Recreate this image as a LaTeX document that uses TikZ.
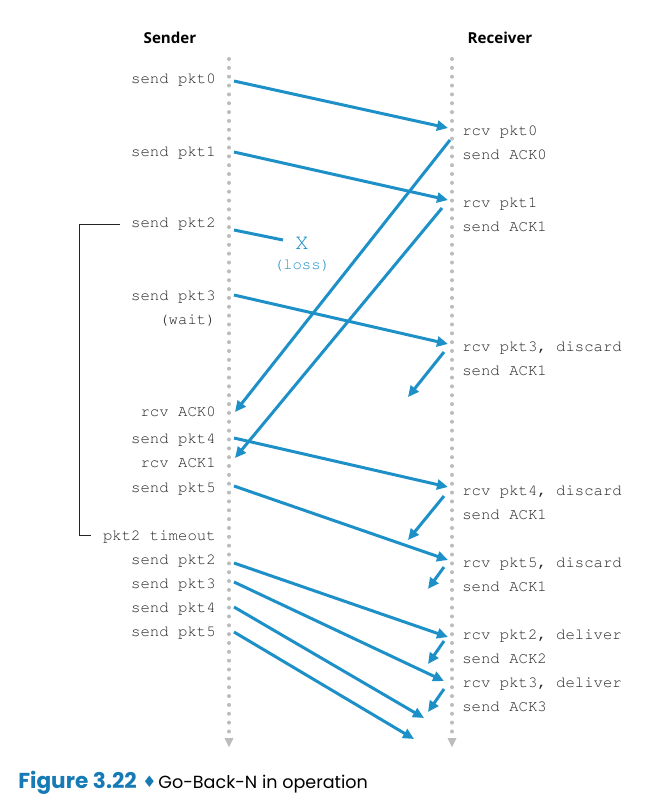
\documentclass[tikz,border=0pt]{standalone}
\usepackage[T1]{fontenc}
\usepackage{fontspec}
\setsansfont{Open Sans}
\newfontfamily\capfont{Poppins}
\newfontfamily\symfont{DejaVu Sans}
\newcommand\pktfont{\fontencoding{T1}\fontfamily{pcr}\selectfont}
\usetikzlibrary{arrows.meta}
\definecolor{pktblue}{RGB}{30,144,200}
\definecolor{capblue}{RGB}{22,122,182}
\definecolor{dotgray}{RGB}{188,188,188}
\definecolor{lblgray}{RGB}{35,35,35}
\tikzset{
  timeline/.style={dotgray, line width=0.08cm, line cap=round, dash pattern=on 0pt off 0.177cm},
  msg/.style={pktblue, line width=0.06cm, -{Triangle[length=0.22cm,width=0.2cm]}},
  lbl/.style={font=\pktfont\fontsize{8.9}{10}\selectfont, text=lblgray, inner sep=0pt},
  head/.style={font=\sffamily\bfseries\fontsize{8.6}{10}\selectfont, inner sep=0pt},
}
\begin{document}
\begin{tikzpicture}[x=0.02cm,y=-0.02cm]
                \useasboundingbox (0,0) rectangle (667,806);
                
                % Drawing headings
                \node [head] (sender) at (170,38) {Sender};
                \node [head] (receiver) at (500,38) {Receiver};
                
                % Drawing time lines
                \draw [timeline] (229,59) -- (229,733);
                \fill [dotgray] (224.5,738) -- (233.5,738) -- (229,747) -- cycle;
                \draw [timeline] (452,59) -- (452,733);
                \fill [dotgray] (447.5,738) -- (456.5,738) -- (452,747) -- cycle;
                
                % Marking sender events
                \node [lbl, anchor=base east] (s0) at (216,83) {send pkt0};
                \node [lbl, anchor=base east] (s1) at (216,156) {send pkt1};
                \node [lbl, anchor=base east] (s2) at (216,227) {send pkt2};
                \node [lbl, anchor=base east] (s3) at (216,300) {send pkt3};
                \node [lbl, anchor=base east] (wait) at (216,324) {(wait)};
                \node [lbl, anchor=base east] (a0) at (216,416) {rcv ACK0};
                \node [lbl, anchor=base east] (s4) at (216,443) {send pkt4};
                \node [lbl, anchor=base east] (a1) at (216,467) {rcv ACK1};
                \node [lbl, anchor=base east] (s5) at (216,492) {send pkt5};
                \node [lbl, anchor=base east] (tout) at (216,540) {pkt2 timeout};
                \node [lbl, anchor=base east] (t2) at (216,564) {send pkt2};
                \node [lbl, anchor=base east] (t3) at (216,588) {send pkt3};
                \node [lbl, anchor=base east] (t4) at (216,612) {send pkt4};
                \node [lbl, anchor=base east] (t5) at (216,636) {send pkt5};
                
                % Marking receiver events
                \node [lbl, anchor=base west] (r0) at (462,135) {rcv pkt0};
                \node [lbl, anchor=base west] (k0) at (462,159) {send ACK0};
                \node [lbl, anchor=base west] (r1) at (462,207) {rcv pkt1};
                \node [lbl, anchor=base west] (k1) at (462,231) {send ACK1};
                \node [lbl, anchor=base west] (r3) at (462,351) {rcv pkt3, discard};
                \node [lbl, anchor=base west] (k3) at (462,375) {send ACK1};
                \node [lbl, anchor=base west] (r4) at (462,495) {rcv pkt4, discard};
                \node [lbl, anchor=base west] (k4) at (462,519) {send ACK1};
                \node [lbl, anchor=base west] (r5) at (462,567) {rcv pkt5, discard};
                \node [lbl, anchor=base west] (k5) at (462,591) {send ACK1};
                \node [lbl, anchor=base west] (q2) at (462,639) {rcv pkt2, deliver};
                \node [lbl, anchor=base west] (c2) at (462,663) {send ACK2};
                \node [lbl, anchor=base west] (q3) at (462,687) {rcv pkt3, deliver};
                \node [lbl, anchor=base west] (c3) at (462,711) {send ACK3};
                
                % Message end points
                \coordinate (p0a) at (234,81);   \coordinate (p0b) at (448,128);
                \coordinate (p1a) at (234,152);  \coordinate (p1b) at (448,200);
                \coordinate (p2a) at (234,230);  \coordinate (p2b) at (283,240);
                \coordinate (p3a) at (234,295);  \coordinate (p3b) at (448,344);
                \coordinate (ack0a) at (450,140); \coordinate (ack0b) at (235,412);
                \coordinate (ack1a) at (442,208); \coordinate (ack1b) at (235,458);
                \coordinate (ack3a) at (444,352); \coordinate (ack3b) at (408,397);
                \coordinate (p4a) at (234,438);  \coordinate (p4b) at (448,487);
                \coordinate (ack4a) at (444,496); \coordinate (ack4b) at (408,540);
                \coordinate (p5a) at (234,486);  \coordinate (p5b) at (448,560);
                \coordinate (ack5a) at (444,567); \coordinate (ack5b) at (428,589);
                \coordinate (q2a) at (234,563);  \coordinate (q2b) at (448,637);
                \coordinate (c2a) at (444,641);  \coordinate (c2b) at (428,664);
                \coordinate (q3a) at (234,582);  \coordinate (q3b) at (444,681);
                \coordinate (c3a) at (444,689);  \coordinate (c3b) at (428,712);
                \coordinate (q4a) at (234,607);  \coordinate (q4b) at (424,718);
                \coordinate (q5a) at (234,632);  \coordinate (q5b) at (414,739);
                
                % Drawing messages
                \draw [msg] (p0a) -- (p0b);
                \draw [msg] (p1a) -- (p1b);
                \draw [pktblue, line width=0.06cm] (p2a) -- (p2b);
                \draw [msg] (p3a) -- (p3b);
                \draw [msg] (ack0a) -- (ack0b);
                \draw [msg] (ack1a) -- (ack1b);
                \draw [msg] (ack3a) -- (ack3b);
                \draw [msg] (p4a) -- (p4b);
                \draw [msg] (ack4a) -- (ack4b);
                \draw [msg] (p5a) -- (p5b);
                \draw [msg] (ack5a) -- (ack5b);
                \draw [msg] (q2a) -- (q2b);
                \draw [msg] (c2a) -- (c2b);
                \draw [msg] (q3a) -- (q3b);
                \draw [msg] (c3a) -- (c3b);
                \draw [msg] (q4a) -- (q4b);
                \draw [msg] (q5a) -- (q5b);
                
                % Marking the loss
                \node [lbl, text=pktblue, font=\pktfont\fontsize{12.5}{13}\selectfont] (lossx) at (302,243) {X};
                \node [lbl, text=pktblue] (loss) at (302,265) {(loss)};
                
                % Drawing timeout bracket
                \coordinate (brtop) at (120,224);
                \coordinate (brbot) at (91,535);
                \draw [line width=0.02cm, lblgray] (brtop) -- (79,224) -- (79,535) -- (brbot);
                
                % Caption
                \node [anchor=base west, inner sep=0pt, text=capblue, font=\capfont\bfseries\fontsize{12.3}{13}\selectfont] (fig) at (18,788) {Figure 3.22};
                \node [anchor=base west, inner sep=0pt, text=capblue, font=\symfont\fontsize{9}{9}\selectfont] (dia) at (142,787) {♦};
                \node [anchor=base west, inner sep=0pt, font=\capfont\fontsize{10}{12}\selectfont] (cap) at (158,788) {Go-Back-N in operation};
\end{tikzpicture}
\end{document}
